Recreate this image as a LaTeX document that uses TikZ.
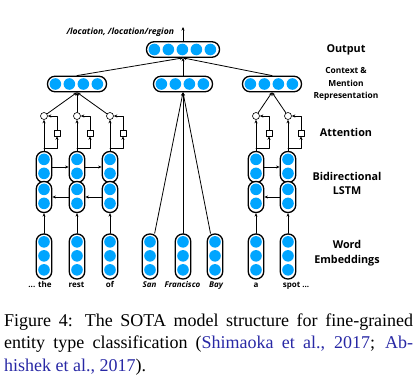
\documentclass[tikz,border=0pt]{standalone}
\usepackage{fontspec}
\setmainfont{Liberation Serif}
\newfontfamily\labfont{Open Sans}
\usetikzlibrary{arrows.meta,calc,positioning}
\definecolor{cellblue}{RGB}{0,165,255}
\definecolor{citeblue}{RGB}{40,40,165}

\tikzset{
  capsule/.style={draw, line width=1.3pt, rounded corners=7.5pt, fill=white, inner sep=0pt},
  cell/.style={circle, fill=cellblue, inner sep=0pt, minimum size=11.6pt},
  gate/.style={circle, draw, fill=white, line width=0.6pt, inner sep=0pt, minimum size=7pt},
  sq/.style={rectangle, draw, fill=white, line width=0.6pt, inner sep=0pt, minimum size=6pt},
  word/.style={font=\labfont\bfseries\fontsize{8}{9}\selectfont, anchor=base},
  mword/.style={word, font=\labfont\bfseries\itshape\fontsize{8}{9}\selectfont},
  layer/.style={font=\labfont\bfseries\fontsize{10.8}{14.5}\selectfont, align=center},
  conn/.style={line width=0.8pt}
}

% vertical capsule: name, x, y, number of cells
\newcommand{\vcap}[4]{%
  \node[capsule, minimum width=15.5pt, minimum height=#4*14pt+3pt] (#1) at (#2,#3) {};
  \foreach \k in {1,...,#4}
    \node[cell] (#1-\k) at ($(#1.north)+(0,14*\k-5.5)$) {};
}
% horizontal capsule: name, x, y, number of cells
\newcommand{\hcap}[4]{%
  \node[capsule, minimum height=15.5pt, minimum width=#4*14pt+3pt] (#1) at (#2,#3) {};
  \foreach \k in {1,...,#4}
    \node[cell] (#1-\k) at ($(#1.west)+(14*\k-5.5,0)$) {};
}

\begin{document}
\begin{tikzpicture}[x=1pt, y=-1pt, line join=round, line cap=round, >={Stealth[length=3.5pt,width=3pt]}]
  \useasboundingbox (0,0) rectangle (419,379);

  % Word embeddings
  \foreach \nm/\xx in {the/44, rest/77, of/110, san/150, fran/183, bay/215, a/256, spot/288}
    \vcap{e\nm}{\xx}{256.5}{3};

  % Words
  \node[word] (wthe) at (40,287) {... the};
  \node[word] (wrest) at (76.5,287) {rest};
  \node[word] (wof) at (110,287) {of};
  \node[mword] (wsan) at (149.5,287) {San};
  \node[mword] (wfran) at (182.5,287) {Francisco};
  \node[mword] (wbay) at (216,287) {Bay};
  \node[word] (wa) at (256,287) {a};
  \node[word] (wspot) at (296,287) {spot ...};

  % Bidirectional LSTM and attention
  \foreach \nm/\xx in {the/44, rest/77, of/110, a/256, spot/288}{
    \vcap{f\nm}{\xx}{167}{2};
    \vcap{b\nm}{\xx}{197}{2};
    \draw[conn, ->] (e\nm) -- (b\nm);
    \node[gate] (g\nm) at (\xx,116) {};
    \node[sq] (s\nm) at (\xx+13,133) {};
    \coordinate (c\nm) at (\xx,148);
    \draw[conn, ->] (f\nm) -- (g\nm);
    \draw[conn, ->] (c\nm) -| (s\nm);
    \draw[conn, ->] (s\nm) |- (g\nm);
  }
  \draw[conn, ->] (fthe) -- (frest);
  \draw[conn, ->] (frest) -- (fof);
  \draw[conn, ->] (fa) -- (fspot);
  \draw[conn, ->] (brest) -- (bthe);
  \draw[conn, ->] (bof) -- (brest);
  \draw[conn, ->] (bspot) -- (ba);

  % Context and mention representation
  \hcap{rleft}{77}{84}{4};
  \hcap{rmid}{183}{84}{4};
  \hcap{rright}{272}{84}{4};
  \foreach \nm in {the, rest, of}
    \draw[conn, ->] (g\nm) -- (rleft.south);
  \foreach \nm in {a, spot}
    \draw[conn, ->] (g\nm) -- (rright.south);
  \foreach \nm in {san, fran, bay}
    \draw[conn, ->] (e\nm) -- (rmid.south);

  % Output
  \hcap{out}{183}{49.5}{5};
  \draw[conn, ->] (rleft.north) -- (out.south);
  \draw[conn, ->] (rmid.north) -- (out.south);
  \draw[conn, ->] (rright.north) -- (out.south);
  \coordinate (top) at (183,27);
  \draw[conn, ->] (out) -- (top);
  \node[font=\labfont\bfseries\itshape\fontsize{8.6}{9}\selectfont, anchor=base east] (types) at (177.5,35) {/location, /location/region};

  % Layer names
  \node[layer] (lout) at (346,50) {Output};
  \node[layer, font=\labfont\bfseries\fontsize{8.4}{12.5}\selectfont] (lrep) at (346,84) {Context \&\\Mention\\Representation};
  \node[layer] (latt) at (346,132) {Attention};
  \node[layer] (llstm) at (347,183.5) {Bidirectional\\LSTM};
  \node[layer] (lemb) at (347,253) {Word\\Embeddings};

  % Caption
  \node[anchor=base west, inner sep=0pt, font=\fontsize{18}{22}\selectfont] (cap1) at (4,326)
    {\makebox[409pt][s]{Figure 4: The SOTA model structure for fine-grained}};
  \node[anchor=base west, inner sep=0pt, font=\fontsize{18}{22}\selectfont] (cap2) at (4,348.5)
    {\makebox[409pt][s]{entity type classification ({\color{citeblue}Shimaoka et al., 2017}; {\color{citeblue}Ab-}}};
  \node[anchor=base west, inner sep=0pt, font=\fontsize{18}{22}\selectfont] (cap3) at (4,371)
    {{\color{citeblue}hishek et al., 2017}).};
\end{tikzpicture}
\end{document}
